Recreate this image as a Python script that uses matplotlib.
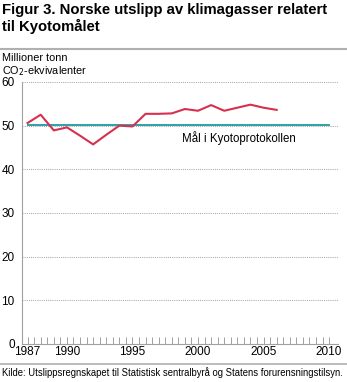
import numpy as np
import matplotlib
matplotlib.use('Agg')
import matplotlib.pyplot as plt
from matplotlib.lines import Line2D

plt.rcParams['font.family'] = ['Liberation Sans', 'DejaVu Sans']

years = list(range(1987, 2007))
utslipp = [50.6, 52.5, 48.9, 49.6, 47.7, 45.7, 47.9, 50.0, 49.8, 52.7,
           52.7, 52.8, 53.8, 53.4, 54.7, 53.4, 54.1, 54.8, 54.1, 53.6]
kyoto_years = [1987, 2010]
kyoto_maal = [50.1, 50.1]
yticks = [0, 10, 20, 30, 40, 50, 60]
xticklabels = [1987, 1990, 1995, 2000, 2005, 2010]

fig = plt.figure(figsize=(3.47, 3.82), dpi=100)
ax = fig.add_axes([0.0625, 0.0995, 0.9105, 0.686])

# tittel og skillelinjer
fig.text(0.006, 0.993, 'Figur 3. Norske utslipp av klimagasser relatert\ntil Kyotomålet',
         fontsize=10.7, fontweight='bold', va='top', ha='left', linespacing=1.2)
fig.add_artist(Line2D([0, 1], [0.872, 0.872], color='#b0b0b0', lw=1.5))
fig.add_artist(Line2D([0, 1], [0.048, 0.048], color='#b0b0b0', lw=1.2))
fig.text(0.006, 0.862, 'Millioner tonn\nCO$_2$-ekvivalenter', fontsize=7.8,
         va='top', ha='left', linespacing=1.15)
fig.text(0.006, 0.024, 'Kilde: Utslippsregnskapet til Statistisk sentralbyrå og Statens forurensningstilsyn.',
         fontsize=6.85, va='center', ha='left')

ax.plot(kyoto_years, kyoto_maal, color='#1b9aa0', lw=1.3, zorder=3)
ax.plot(years, utslipp, color='#d7304f', lw=1.5, zorder=4)
ax.text(1998.8, 47.2, 'Mål i Kyotoprotokollen', fontsize=8.3, va='center', ha='left')

ax.set_xlim(1986.55, 2010.65)
ax.set_ylim(0, 60)
ax.set_yticks(yticks)
ax.set_yticklabels([str(v) for v in yticks], fontsize=8.5)
ax.yaxis.grid(True, color='#a0a0a0', linestyle=(0, (1, 1.2)), lw=0.7)
ax.tick_params(axis='y', length=0, pad=5)

ax.set_xticks(np.arange(1987, 2010.01, 0.5), minor=True)
ax.set_xticks(xticklabels)
ax.set_xticklabels([str(v) for v in xticklabels], fontsize=8.5)
ax.tick_params(axis='x', which='both', direction='in', length=5, color='#a0a0a0', width=0.7, pad=1.5)

for s in ['top', 'right']:
    ax.spines[s].set_visible(False)
ax.spines['left'].set_color('#a0a0a0')
ax.spines['bottom'].set_color('#a0a0a0')
ax.set_axisbelow(True)

fig.savefig('out.png', dpi=100)
